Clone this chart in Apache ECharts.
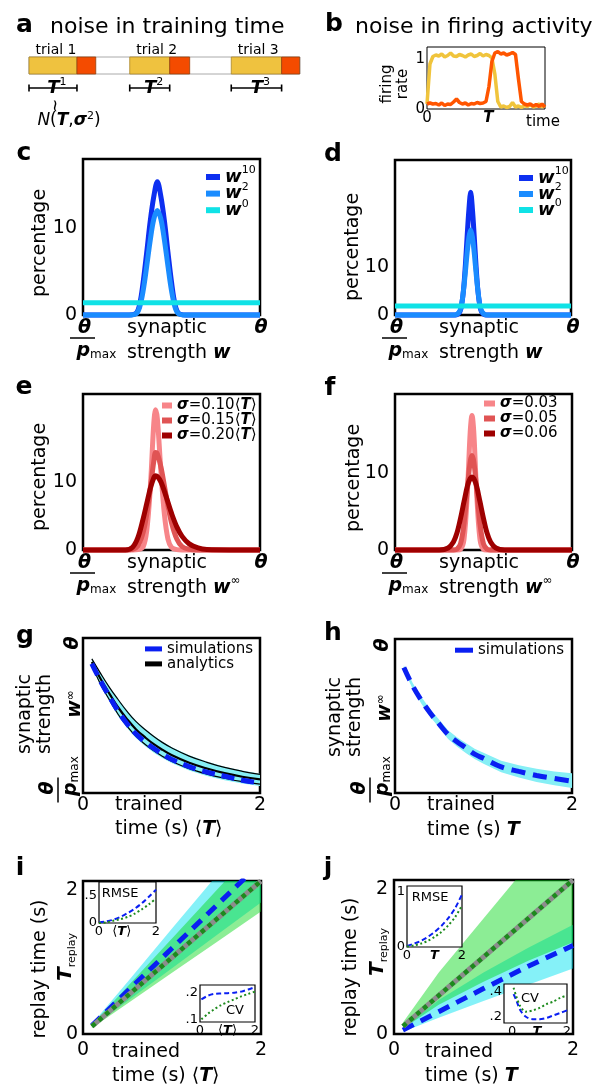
<!DOCTYPE html>
<html>
<head>
<meta charset="utf-8">
<title>noise in training time / firing activity</title>
<script src="https://cdn.jsdelivr.net/npm/echarts@6.0.0/dist/echarts.min.js"></script>
<style>
  html, body { margin: 0; padding: 0; background: #fff; }
  #fig { width: 595px; height: 1088px; }
</style>
</head>
<body>
<div id="fig"></div>
<script>
var FF = 'DejaVu Sans';

// ---------- a: training trials ----------
var trialStart = [0, 2.52, 5.06];
var trialT = [1.2, 1.0, 1.26];
var trialReplay = [0.47, 0.5, 0.45];

// ---------- b: firing rates ----------
var bTime = [0, 0.025, 0.05, 0.075, 0.1, 0.125, 0.15, 0.175, 0.2, 0.225, 0.25, 0.275, 0.3, 0.325, 0.35, 0.375, 0.4, 0.425, 0.45, 0.475, 0.5, 0.525, 0.55, 0.575, 0.6, 0.625, 0.65, 0.675, 0.7, 0.725, 0.75, 0.775, 0.8, 0.825, 0.85, 0.875, 0.9, 0.925, 0.95, 0.975, 1];
var bRateFirst = [0.1, 0.9, 1.05, 1.08, 1.06, 1.1, 1.04, 1.07, 1.12, 1.06, 1.05, 1.09, 1.07, 1.04, 1.08, 1.1, 1.05, 1.07, 1.11, 1.06, 1.09, 1.07, 1.02, 0.7, 0.15, 0.04, 0.06, 0.03, 0.05, 0.13, 0.04, 0.06, 0.03, 0.07, 0.05, 0.09, 0.04, 0.06, 0.1, 0.04, 0.07];
var bRateSecond = [0.1, 0.12, 0.1, 0.11, 0.08, 0.12, 0.07, 0.1, 0.09, 0.14, 0.2, 0.13, 0.1, 0.12, 0.08, 0.11, 0.1, 0.13, 0.11, 0.12, 0.15, 0.45, 0.95, 1.12, 1.15, 1.1, 1.12, 1.08, 1.1, 1.13, 1.09, 0.6, 0.15, 0.1, 0.08, 0.1, 0.06, 0.09, 0.05, 0.1, 0.04];
var bXTicks = [0, 0.52];
var bYTicks = [0, 1];

// ---------- c, d: weight distributions ----------
var histYTicks = [0, 10];
var cW = [0, 0.26, 0.30, 0.32, 0.34, 0.36, 0.38, 0.40, 0.42, 0.44, 0.46, 0.48, 0.50, 0.52, 0.54, 0.58, 1.0];
var cW10 = [0, 0, 0.2, 1.2, 3.8, 7.2, 10.8, 13.6, 15.3, 13.6, 10.8, 7.2, 3.8, 1.2, 0.2, 0, 0];
var cW2 = [0, 0, 0.15, 0.9, 2.8, 5.6, 8.6, 11.0, 12, 11.0, 8.6, 5.6, 2.8, 0.9, 0.15, 0, 0];
var flatW = [0, 1];
var cW0 = [1.4, 1.4];
var dW = [0, 0.33, 0.35, 0.37, 0.38, 0.39, 0.40, 0.41, 0.42, 0.43, 0.44, 0.45, 0.46, 0.47, 0.48, 0.49, 0.51, 0.53, 1.0];
var dW10 = [0, 0, 0.05, 0.8, 2.4, 5.5, 10.5, 16.5, 22, 25.6, 22, 16.5, 10.5, 5.5, 2.4, 0.8, 0.05, 0, 0];
var dW2 = [0, 0.01, 0.1, 1.0, 2.6, 5.4, 9.0, 13.0, 16.2, 17.7, 16.2, 13.0, 9.0, 5.4, 2.6, 1.0, 0.1, 0.01, 0];
var dW0 = [1.9, 1.9];

// ---------- e, f: stationary distributions ----------
var eW = [0, 0.24, 0.28, 0.31, 0.34, 0.36, 0.38, 0.40, 0.41, 0.42, 0.44, 0.46, 0.48, 0.50, 0.53, 0.56, 0.60, 0.65, 0.70, 1.0];
var eS10 = [0, 0, 0, 0.05, 0.5, 2.8, 9.0, 18.6, 20.6, 19.3, 11.6, 5.2, 1.6, 0.4, 0.05, 0, 0, 0, 0, 0];
var eS15 = [0, 0, 0.1, 0.6, 2.6, 5.2, 9.0, 13.0, 14.3, 14.1, 12.2, 9.4, 6.5, 4.0, 1.6, 0.5, 0.1, 0, 0, 0];
var eS20 = [0, 0, 0.4, 1.8, 4.6, 6.8, 9.0, 10.6, 10.9, 10.8, 10.0, 8.6, 7.0, 5.4, 3.4, 2.0, 0.9, 0.3, 0.08, 0];
var fW = [0, 0.25, 0.30, 0.33, 0.35, 0.37, 0.39, 0.41, 0.425, 0.435, 0.445, 0.46, 0.48, 0.50, 0.52, 0.54, 0.57, 0.62, 1.0];
var fS03 = [0, 0, 0, 0, 0, 0.09, 1.4, 8, 15.4, 17.5, 15.4, 8, 1.4, 0.09, 0, 0, 0, 0, 0];
var fS05 = [0, 0, 0, 0.01, 0.12, 0.8, 3.4, 8.3, 11.5, 12.3, 11.5, 8.3, 3.4, 0.8, 0.12, 0.01, 0, 0, 0];
var fS06 = [0, 0.01, 0.26, 1.05, 2.2, 4.1, 6.3, 8.4, 9.3, 9.5, 9.3, 8.4, 6.3, 4.1, 2.2, 1.05, 0.26, 0.01, 0];

// ---------- g, h: w_inf vs trained time ----------
var timeTicks = [0, 2];
var gT = [0.1, 0.2, 0.3, 0.4, 0.5, 0.6, 0.7, 0.8, 0.9, 1.0, 1.2, 1.4, 1.6, 1.8, 2.0];
var gSim = [0.835, 0.72, 0.62, 0.525, 0.445, 0.38, 0.33, 0.288, 0.25, 0.218, 0.17, 0.135, 0.108, 0.082, 0.065];
var gAna = [0.845, 0.735, 0.64, 0.55, 0.475, 0.41, 0.36, 0.315, 0.278, 0.245, 0.195, 0.158, 0.128, 0.105, 0.088];
var gAnaHi = [0.865, 0.77, 0.68, 0.6, 0.525, 0.46, 0.41, 0.365, 0.325, 0.292, 0.238, 0.198, 0.165, 0.14, 0.12];
var gAnaLo = [0.825, 0.70, 0.60, 0.505, 0.43, 0.365, 0.315, 0.272, 0.236, 0.205, 0.157, 0.122, 0.095, 0.073, 0.057];
var gBandHi = [0.87, 0.775, 0.685, 0.605, 0.53, 0.465, 0.415, 0.37, 0.33, 0.297, 0.243, 0.203, 0.17, 0.145, 0.125];
var gBandLo = [0.815, 0.688, 0.588, 0.493, 0.418, 0.353, 0.303, 0.26, 0.224, 0.193, 0.145, 0.11, 0.083, 0.061, 0.045];
var hSim = [0.815, 0.695, 0.6, 0.518, 0.447, 0.38, 0.333, 0.293, 0.252, 0.225, 0.17, 0.14, 0.114, 0.094, 0.077];
var hBandHi = [0.83, 0.715, 0.622, 0.542, 0.475, 0.407, 0.362, 0.324, 0.288, 0.262, 0.21, 0.18, 0.157, 0.14, 0.128];
var hBandLo = [0.80, 0.675, 0.578, 0.494, 0.423, 0.35, 0.302, 0.26, 0.22, 0.19, 0.135, 0.1, 0.072, 0.05, 0.032];

// ---------- i, j: replay time ----------
var rT = [0.1, 0.5, 1.0, 1.5, 2.0];
var rTarget = [0.1, 0.5, 1.0, 1.5, 2.0];
var iGreen = [0.1, 0.5, 1.0, 1.5, 2.0];
var iBlue = [0.11, 0.56, 1.12, 1.68, 2.24];
var iCyanHi = [0.13, 0.68, 1.38, 2.07, 2.76];
var iCyanLo = [0.09, 0.43, 0.86, 1.29, 1.72];
var iGreenHi = [0.12, 0.62, 1.25, 1.88, 2.5];
var iGreenLo = [0.08, 0.40, 0.80, 1.20, 1.60];
var jGreen = [0.1, 0.5, 1.0, 1.5, 2.0];
var jBlue = [0.05, 0.29, 0.59, 0.88, 1.15];
var jGreenHi = [0.15, 0.8, 1.5, 2.2, 2.9];
var jGreenLo = [0.07, 0.38, 0.68, 0.95, 1.19];
var jCyanHi = [0.08, 0.44, 0.8, 1.12, 1.42];
var jCyanLo = [0.03, 0.21, 0.43, 0.64, 0.85];

// insets
var insT = [0, 0.25, 0.5, 0.75, 1.0, 1.25, 1.5, 1.75, 2.0];
var iRmseBlue = [0.01, 0.03, 0.06, 0.11, 0.18, 0.26, 0.36, 0.48, 0.61];
var iRmseGreen = [0.0, 0.01, 0.04, 0.07, 0.11, 0.17, 0.25, 0.34, 0.45];
var cvT = [0.05, 0.3, 0.5, 0.75, 1.0, 1.25, 1.5, 1.75, 2.0];
var iCvBlue = [0.176, 0.19, 0.196, 0.198, 0.199, 0.201, 0.205, 0.213, 0.222];
var iCvGreen = [0.1, 0.122, 0.137, 0.153, 0.165, 0.176, 0.187, 0.196, 0.205];
var jRmseBlue = [0.02, 0.06, 0.11, 0.18, 0.27, 0.38, 0.52, 0.70, 0.95];
var jRmseGreen = [0.01, 0.03, 0.06, 0.11, 0.18, 0.27, 0.39, 0.54, 0.75];
var jCvT = [0.05, 0.15, 0.3, 0.5, 0.75, 1.0, 1.25, 1.5, 1.75, 2.0];
var jCvGreen = [0.43, 0.36, 0.28, 0.24, 0.25, 0.27, 0.30, 0.32, 0.35, 0.37];
var jCvBlue = [0.38, 0.33, 0.25, 0.20, 0.18, 0.18, 0.19, 0.21, 0.23, 0.25];

// ---------- colours ----------
var YEL = '#efc23f', ORG = '#f44b00';
var W10 = '#0d2ff0', W2 = '#1a8cff', W0 = '#10e2e6';
var S1 = '#f78589', S2 = '#e05454', S3 = '#9e0000';
var BLUE = '#0a1ff2', CYAN = '#86eff5';
var CYAN_T = 'rgba(0,225,240,0.48)', GREEN_T = 'rgba(0,215,20,0.45)';
var GRAY = '#8c8c8c', DGREEN = '#1c8a1c';

var chart = echarts.init(document.getElementById('fig'));

function pick(ticks, texts) {
  return function (v) {
    for (var k = 0; k < ticks.length; k++) {
      if (Math.abs(v - ticks[k]) < 1e-6) return texts[k];
    }
    return '';
  };
}

var BIs = {fontFamily: FF, fontWeight: 'bold', fontStyle: 'italic'};
function bi(size, extra) { return Object.assign({}, BIs, {fontSize: size}, extra || {}); }
function nr(size, extra) { return Object.assign({fontFamily: FF, fontSize: size}, extra || {}); }

var MAIN = {show: true, borderColor: '#000', borderWidth: 2.5, backgroundColor: 'transparent'};
var INSET = {show: true, borderColor: '#000', borderWidth: 1.2, backgroundColor: '#fff', z: 10};
function box(l, t, w, h, st) { return Object.assign({left: l, top: t, width: w, height: h}, st); }

var grid = [
  box(29, 57, 271, 17, {show: true, borderColor: '#aaa', borderWidth: 1, backgroundColor: 'transparent'}),
  box(427, 47, 118, 62, {show: true, borderColor: '#000', borderWidth: 1, backgroundColor: 'transparent'}),
  box(83, 159, 177, 156, MAIN),
  box(395, 160, 176, 155, MAIN),
  box(83, 394, 177, 156, MAIN),
  box(395, 394, 177, 156, MAIN),
  box(83, 638, 177, 155, MAIN),
  box(395, 639, 177, 154, MAIN),
  box(83, 881, 178, 153, MAIN),
  box(394, 880, 179, 154, MAIN),
  box(99, 882, 57, 41, INSET),
  box(200, 985, 55, 37, INSET),
  box(407, 886, 55, 61, INSET),
  box(504, 984, 63, 39, INSET)
];

function ax(gi, min, max, interval, label, z) {
  var a = {type: 'value', gridIndex: gi, min: min, max: max,
    axisLine: {show: false}, axisTick: {show: false}, splitLine: {show: false}};
  if (interval) a.interval = interval;
  if (z) a.z = z;
  a.axisLabel = label ? Object.assign({color: '#000', fontFamily: FF}, label) : {show: false};
  return a;
}

var tickFont = {fontSize: 19};
var insFont = {fontSize: 13, margin: 2};
var Tl = '{n|⟨}{b|T}{n|⟩}';
var insRich = {n: nr(13), b: bi(13)};

var xAxis = [
  ax(0, 0, 6.78),
  ax(1, 0, 1, 0.52, {fontSize: 15, margin: 2, formatter: pick(bXTicks, ['0', '{b|T}']), rich: {b: bi(15)}}),
  ax(2, 0, 1), ax(3, 0, 1), ax(4, 0, 1), ax(5, 0, 1),
  ax(6, 0, 2, 1, Object.assign({margin: 3, formatter: pick(timeTicks, ['0', '2'])}, tickFont)),
  ax(7, 0, 2, 1, Object.assign({margin: 3, formatter: pick(timeTicks, ['0', '2'])}, tickFont)),
  ax(8, 0, 2, 1, Object.assign({margin: 7, formatter: pick(timeTicks, ['0', '2'])}, tickFont)),
  ax(9, 0, 2, 1, Object.assign({margin: 7, formatter: pick(timeTicks, ['0', '2'])}, tickFont)),
  ax(10, 0, 2, 0.1, Object.assign({formatter: pick([0, 0.8, 2], ['0', Tl, '2']), rich: insRich}, insFont), 12),
  ax(11, 0, 2, 0.1, Object.assign({formatter: pick([0, 1, 2], ['0', Tl, '2']), rich: insRich}, insFont), 12),
  ax(12, 0, 2, 0.1, Object.assign({formatter: pick([0, 1, 2], ['0', '{b|T}', '2']), rich: insRich}, insFont), 12),
  ax(13, -0.3, 2, 0.1, Object.assign({formatter: pick([0, 0.9, 2], ['0', '{b|T}', '2']), rich: insRich}, insFont), 12)
];

var yAxis = [
  ax(0, 0, 1),
  ax(1, 0, 1.24, 1, {fontSize: 15, margin: 2, formatter: pick(bYTicks, ['0', '1'])}),
  ax(2, 0, 17.9, 10, Object.assign({margin: 6, formatter: pick(histYTicks, ['0', '10'])}, tickFont)),
  ax(3, 0, 32.3, 10, Object.assign({margin: 6, formatter: pick(histYTicks, ['0', '10'])}, tickFont)),
  ax(4, 0, 22.9, 10, Object.assign({margin: 6, formatter: pick(histYTicks, ['0', '10'])}, tickFont)),
  ax(5, 0, 20.3, 10, Object.assign({margin: 6, formatter: pick(histYTicks, ['0', '10'])}, tickFont)),
  ax(6, 0, 1), ax(7, 0, 1),
  ax(8, 0, 2, 1, Object.assign({margin: 5, formatter: pick(timeTicks, ['0', '{dn|2}']), rich: {dn: nr(19, {padding: [18, 0, 0, 0]})}}, tickFont)),
  ax(9, 0, 2, 1, Object.assign({margin: 6, formatter: pick(timeTicks, ['0', '{dn|2}']), rich: {dn: nr(19, {padding: [18, 0, 0, 0]})}}, tickFont)),
  ax(10, 0, 0.75, 0.05, Object.assign({formatter: pick([0, 0.5], ['0', '.5'])}, insFont), 12),
  ax(11, 0.09, 0.23, 0.01, Object.assign({formatter: pick([0.1, 0.2], ['.1', '.2'])}, insFont), 12),
  ax(12, 0, 1.1, 0.1, Object.assign({formatter: pick([0, 1], ['0', '1'])}, insFont), 12),
  ax(13, 0.15, 0.46, 0.01, Object.assign({formatter: pick([0.2, 0.4], ['.2', '.4'])}, insFont), 12)
];

function ln(name, gi, xs, ys, color, width, dash, more) {
  return Object.assign({
    type: 'line', name: name, xAxisIndex: gi, yAxisIndex: gi,
    data: xs.map(function (x, k) { return [x, ys[k]]; }),
    symbol: 'none', showSymbol: false, clip: false, silent: true,
    lineStyle: {color: color, width: width, type: dash || 'solid', cap: 'butt'},
    itemStyle: {color: color}
  }, more || {});
}

function band(gi, xs, lo, hi, fill) {
  return {
    type: 'custom', xAxisIndex: gi, yAxisIndex: gi, clip: true, silent: true,
    data: [[xs[0], lo[0]]],
    renderItem: function (params, api) {
      var pts = [], k;
      for (k = 0; k < xs.length; k++) pts.push(api.coord([xs[k], hi[k]]));
      for (k = xs.length - 1; k >= 0; k--) pts.push(api.coord([xs[k], lo[k]]));
      return {type: 'polygon', shape: {points: pts}, style: {fill: fill}};
    }
  };
}

var SM = {smooth: 0.35};
var SG = {smooth: 0.4};
var INZ = {z: 12, clip: true};

function renderTrial(params, api) {
  var s = api.value(0), T = api.value(1), r = api.value(2), k = api.value(3);
  var tl = api.coord([s, 1]), mid = api.coord([s + T, 0]), end = api.coord([s + T + r, 0]);
  var h = mid[1] - tl[1];
  var by = mid[1] + 14;
  var tick = {stroke: '#000', lineWidth: 1.6};
  return {type: 'group', children: [
    {type: 'rect', shape: {x: tl[0], y: tl[1], width: mid[0] - tl[0], height: h}, style: {fill: YEL, stroke: '#a9862c', lineWidth: 0.8}},
    {type: 'rect', shape: {x: mid[0], y: tl[1], width: end[0] - mid[0], height: h}, style: {fill: ORG, stroke: '#93400c', lineWidth: 0.8}},
    {type: 'text', x: tl[0] + 27, y: tl[1] - 7, style: {text: 'trial ' + k, fontFamily: FF, fontSize: 14, fill: '#000', align: 'center', verticalAlign: 'middle'}},
    {type: 'line', shape: {x1: tl[0], y1: by, x2: mid[0], y2: by}, style: tick},
    {type: 'line', shape: {x1: tl[0], y1: by - 3.5, x2: tl[0], y2: by + 3.5}, style: tick},
    {type: 'line', shape: {x1: mid[0], y1: by - 3.5, x2: mid[0], y2: by + 3.5}, style: tick},
    {type: 'text', x: (tl[0] + mid[0]) / 2 + 4, y: by, style: {text: '{b|T}{s|' + k + '}', fill: '#000', align: 'center', verticalAlign: 'middle',
      rich: {b: bi(18, {lineHeight: 23}), s: nr(11, {verticalAlign: 'top'})}}}
  ]};
}

var series = [
  {type: 'custom', xAxisIndex: 0, yAxisIndex: 0, silent: true, clip: false,
    data: trialStart.map(function (s, k) { return [s, trialT[k], trialReplay[k], k + 1]; }),
    renderItem: renderTrial},
  ln('bFirst', 1, bTime, bRateFirst, '#f0c43c', 3.5),
  ln('bSecond', 1, bTime, bRateSecond, '#ff5500', 3.5),
  ln('cW10', 2, cW, cW10, W10, 5, 'solid', SM),
  ln('cW2', 2, cW, cW2, W2, 5, 'solid', SM),
  ln('cW0', 2, flatW, cW0, W0, 5),
  ln('dW10', 3, dW, dW10, W10, 5, 'solid', SM),
  ln('dW2', 3, dW, dW2, W2, 5, 'solid', SM),
  ln('dW0', 3, flatW, dW0, W0, 5),
  ln('eS10', 4, eW, eS10, S1, 5, 'solid', SM),
  ln('eS15', 4, eW, eS15, S2, 5, 'solid', SM),
  ln('eS20', 4, eW, eS20, S3, 5, 'solid', SM),
  ln('fS03', 5, fW, fS03, S1, 5, 'solid', SM),
  ln('fS05', 5, fW, fS05, S2, 5, 'solid', SM),
  ln('fS06', 5, fW, fS06, S3, 5, 'solid', SM),
  band(6, gT, gBandLo, gBandHi, CYAN),
  ln('gHi', 6, gT, gAnaHi, '#000', 1.2, 'solid', SG),
  ln('gLo', 6, gT, gAnaLo, '#000', 1.2, 'solid', SG),
  ln('gAna', 6, gT, gAna, '#000', 2.2, 'solid', SG),
  ln('gSim', 6, gT, gSim, BLUE, 5, [13, 7], SG),
  band(7, gT, hBandLo, hBandHi, CYAN),
  ln('hSim', 7, gT, hSim, BLUE, 5, [14, 8], SG),
  band(8, rT, iCyanLo, iCyanHi, CYAN_T),
  band(8, rT, iGreenLo, iGreenHi, GREEN_T),
  ln('iBlue', 8, rT, iBlue, BLUE, 5, [12, 8], {clip: true}),
  ln('iTarget', 8, rT, rTarget, GRAY, 5, 'solid', {clip: true}),
  ln('iGreen', 8, rT, iGreen, DGREEN, 4.5, [4.5, 4.5], {clip: true}),
  band(9, rT, jCyanLo, jCyanHi, CYAN_T),
  band(9, rT, jGreenLo, jGreenHi, GREEN_T),
  ln('jBlue', 9, rT, jBlue, BLUE, 5, [12, 8], {clip: true}),
  ln('jTarget', 9, rT, rTarget, GRAY, 5, 'solid', {clip: true}),
  ln('jGreen', 9, rT, jGreen, DGREEN, 4.5, [4.5, 4.5], {clip: true}),
  ln('iRmseB', 10, insT, iRmseBlue, BLUE, 2, [5, 3], Object.assign({smooth: 0.3}, INZ)),
  ln('iRmseG', 10, insT, iRmseGreen, DGREEN, 2, [2, 2.5], Object.assign({smooth: 0.3}, INZ)),
  ln('iCvB', 11, cvT, iCvBlue, BLUE, 2, [5, 3], Object.assign({smooth: 0.3}, INZ)),
  ln('iCvG', 11, cvT, iCvGreen, DGREEN, 2, [2, 2.5], Object.assign({smooth: 0.3}, INZ)),
  ln('jRmseB', 12, insT, jRmseBlue, BLUE, 2, [5, 3], Object.assign({smooth: 0.3}, INZ)),
  ln('jRmseG', 12, insT, jRmseGreen, DGREEN, 2, [2, 2.5], Object.assign({smooth: 0.3}, INZ)),
  ln('jCvB', 13, jCvT, jCvBlue, BLUE, 2, [5, 3], Object.assign({smooth: 0.3}, INZ)),
  ln('jCvG', 13, jCvT, jCvGreen, DGREEN, 2, [2, 2.5], Object.assign({smooth: 0.3}, INZ))
];

// ---------- legends ----------
var legendText = {
  cW10: '{b|w}{s|10}', cW2: '{b|w}{s|2}', cW0: '{b|w}{s|0}',
  dW10: '{b|w}{s|10}', dW2: '{b|w}{s|2}', dW0: '{b|w}{s|0}',
  eS10: '{b|σ}{n|=0.10⟨}{b|T}{n|⟩}', eS15: '{b|σ}{n|=0.15⟨}{b|T}{n|⟩}', eS20: '{b|σ}{n|=0.20⟨}{b|T}{n|⟩}',
  fS03: '{b|σ}{n|=0.03}', fS05: '{b|σ}{n|=0.05}', fS06: '{b|σ}{n|=0.06}',
  gSim: '{n|simulations}', gAna: '{n|analytics}', hSim: '{n|simulations}'
};
function lg(names, left, top, iw, ih, gap, rich) {
  return {data: names, left: left, top: top, orient: 'vertical', icon: 'rect', padding: 0,
    itemWidth: iw, itemHeight: ih, itemGap: gap, selectedMode: false,
    itemStyle: {borderWidth: 0}, lineStyle: {width: 0},
    formatter: function (n) { return legendText[n]; },
    textStyle: {color: '#000', fontFamily: FF, rich: rich}};
}
var wRich = {b: bi(18, {lineHeight: 24}), s: nr(11, {verticalAlign: 'top'})};
var sRich = function (lh) { return {b: bi(15, {lineHeight: lh}), n: nr(15, {lineHeight: lh})}; };
var legend = [
  lg(['cW10', 'cW2', 'cW0'], 206, 165, 14, 6, -4.4, wRich),
  lg(['dW10', 'dW2', 'dW0'], 519, 166, 14, 6, -5, wRich),
  lg(['eS10', 'eS15', 'eS20'], 162, 398, 10, 6, 0, sRich(17.2)),
  lg(['fS03', 'fS05', 'fS06'], 484, 396, 11, 6, 0, sRich(17.5)),
  lg(['gSim', 'gAna'], 145, 641.4, 17, 5, 0, sRich(18.6)),
  lg(['hSim'], 455, 642.7, 18, 5, 0, sRich(18.6))
];

// ---------- free text ----------
var graphic = [];
var R90 = Math.PI / 2;
function txt(x, y, text, st, rot) {
  graphic.push({type: 'text', x: x, y: y, rotation: rot || 0, silent: true, z: 100,
    style: Object.assign({text: text, fill: '#000', fontFamily: FF, fontSize: 19, align: 'center', verticalAlign: 'middle'}, st || {})});
}
function frac(x, y, rot) {
  graphic.push({type: 'group', x: x, y: y, rotation: rot || 0, silent: true, z: 100, children: [
    {type: 'line', shape: {x1: -12.5, y1: 0, x2: 12.5, y2: 0}, style: {stroke: '#000', lineWidth: 1.5}},
    {type: 'text', x: 2, y: -10, style: {text: 'θ', fill: '#000', fontFamily: FF, fontSize: 19, fontWeight: 'bold', fontStyle: 'italic', align: 'center', verticalAlign: 'middle'}},
    {type: 'text', x: -6, y: 13, style: {text: '{p|p}{s|max}', fill: '#000', align: 'left', verticalAlign: 'middle',
      rich: {p: bi(19, {lineHeight: 20}), s: nr(12, {verticalAlign: 'bottom'})}}}
  ]});
}

// panel letters
[['a', 24.5, 25], ['b', 334, 24], ['c', 24, 153], ['d', 333, 154], ['e', 24, 387], ['f', 330, 388],
 ['g', 25, 636], ['h', 333, 633], ['i', 20, 868], ['j', 328, 868]].forEach(function (p) {
  txt(p[1], p[2], p[0], {fontSize: 25, fontWeight: 'bold'});
});
txt(50, 27, 'noise in training time', {fontSize: 22, align: 'left'});
txt(355, 27, 'noise in firing activity', {fontSize: 22, align: 'left'});

// a
txt(57, 106, '~', {fontSize: 17}, R90);
txt(69, 121, '{i|N}{n|(}{b|T}{n|,}{b|σ}{s|2}{n|)}', {rich: {
  i: nr(17, {fontStyle: 'italic', lineHeight: 21}), n: nr(17, {lineHeight: 21}),
  b: bi(17, {lineHeight: 21}), s: nr(11, {verticalAlign: 'top'})}});

// b
txt(395, 84, 'firing\nrate', {fontSize: 15, lineHeight: 16}, R90);
txt(543, 122, 'time', {fontSize: 15});

// c-f bottom annotations
var wRow = {n: nr(19, {lineHeight: 27}), b: bi(19, {lineHeight: 27}), s: nr(12, {verticalAlign: 'top'})};
function histBottom(left, right, bottom, inf) {
  frac(left - 0.5, bottom + 23);
  txt(right + 1, bottom + 13, 'θ', {fontWeight: 'bold', fontStyle: 'italic'});
  txt(left + 44, bottom + 13, 'synaptic', {align: 'left'});
  txt(left + 44, bottom + 38, '{n|strength }{b|w}' + (inf ? '{s|∞}' : ''), {align: 'left', rich: wRow});
}
histBottom(83, 260, 315, false);
histBottom(395, 572, 315, false);
histBottom(83, 260, 550, true);
histBottom(395, 572, 550, true);
txt(40, 243, 'percentage', {}, R90);
txt(353, 247, 'percentage', {}, R90);
txt(40, 477, 'percentage', {}, R90);
txt(354, 478, 'percentage', {}, R90);

// g, h
var infRot = {n: nr(19, {lineHeight: 20}), b: bi(19, {lineHeight: 20}), s: nr(12, {verticalAlign: 'top'})};
function wAxis(yw, xw, yth, xth, fx, lx, ly) {
  txt(xth, yth, 'θ', {fontWeight: 'bold', fontStyle: 'italic'}, R90);
  txt(xw, yw, '{b|w}{s|∞}', {rich: infRot}, R90);
  frac(fx, 790, R90);
  txt(lx, ly, 'synaptic\nstrength', {lineHeight: 20}, R90);
}
wAxis(704, 75, 643, 73, 58, 35, 714);
wAxis(708, 385, 645, 383, 370, 345, 717);
var tRich = {n: nr(19), b: bi(19)};
txt(115, 805, 'trained', {align: 'left'});
txt(115, 829, '{n|time (s) ⟨}{b|T}{n|⟩}', {align: 'left', rich: tRich});
txt(427, 805, 'trained', {align: 'left'});
txt(427, 830, '{n|time (s) }{b|T}', {align: 'left', rich: tRich});

// i, j
var trRich = {b: bi(20, {lineHeight: 23}), s: nr(11, {verticalAlign: 'bottom'})};
txt(40, 969, 'replay time (s)', {}, R90);
txt(66, 957, '{b|T}{s|replay}', {rich: trRich}, R90);
txt(351, 967, 'replay time (s)', {}, R90);
txt(378, 952, '{b|T}{s|replay}', {rich: trRich}, R90);
txt(112, 1052, 'trained', {align: 'left'});
txt(112, 1076, '{n|time (s) ⟨}{b|T}{n|⟩}', {align: 'left', rich: tRich});
txt(425, 1052, 'trained', {align: 'left'});
txt(425, 1076, '{n|time (s) }{b|T}', {align: 'left', rich: tRich});
txt(120, 894, 'RMSE', {fontSize: 13});
txt(430, 898, 'RMSE', {fontSize: 13});
txt(235, 1011, 'CV', {fontSize: 13});
txt(530, 999, 'CV', {fontSize: 13});

chart.setOption({
  animation: false,
  backgroundColor: '#fff',
  grid: grid,
  xAxis: xAxis,
  yAxis: yAxis,
  legend: legend,
  series: series,
  graphic: graphic
});
</script>
</body>
</html>
